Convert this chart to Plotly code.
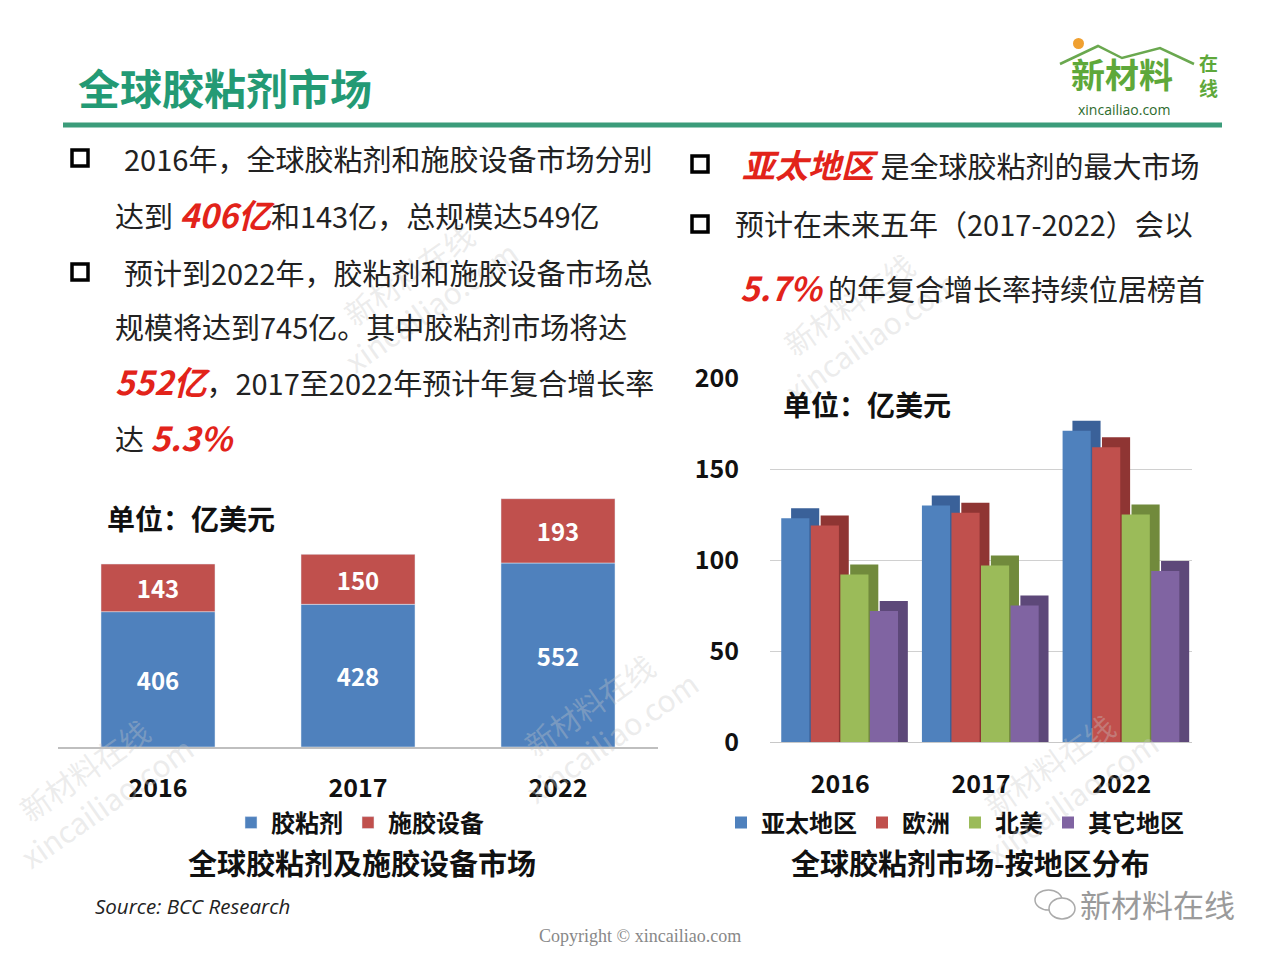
import plotly.graph_objects as go

W, H = 1280, 960
PAGE = 8  # default body margin of the html page

# ── Data ─────────────────────────────────────────────────────────────────────
years = ["2016", "2017", "2022"]
adhesive = [406, 428, 552]          # 胶粘剂
equipment = [143, 150, 193]         # 施胶设备

regions = ["亚太地区", "欧洲", "北美", "其它地区"]
region_values = [
    [123, 130, 171],   # 亚太地区
    [119, 126, 162],   # 欧洲
    [92, 97, 125],     # 北美
    [72, 75, 94],      # 其它地区
]
region_colors = ["#4f81bd", "#c0504d", "#9bbb59", "#8064a2"]
region_side = ["#3a6199", "#8f3533", "#718a3c", "#5d4879"]
y2_ticks = [0, 50, 100, 150, 200]

FONT = "Noto Sans CJK SC"
RED = "#e2231a"


def px(x):
    return (x - PAGE) / W


def py(y):
    return 1 - (y - PAGE) / H


fig = go.Figure()

# ── Left: stacked bars ──────────────────────────────────────────────────────
fig.add_trace(go.Bar(
    x=years, y=adhesive, name="<b>胶粘剂</b>", marker_color="#4f81bd",
    text=[f"<b>{v}</b>" for v in adhesive], textposition="inside",
    insidetextanchor="middle",
    textfont=dict(color="white", size=24, family=FONT), xaxis="x", yaxis="y",
    legend="legend",
))
fig.add_trace(go.Bar(
    x=years, y=equipment, base=adhesive, name="<b>施胶设备</b>",
    marker_color="#c0504d",
    text=[f"<b>{v}</b>" for v in equipment], textposition="inside",
    insidetextanchor="middle",
    textfont=dict(color="white", size=24, family=FONT), xaxis="x", yaxis="y",
    legend="legend",
))

# ── Right: grouped bars with a pseudo-3D depth face ─────────────────────────
bw = 0.2
depth_x = 0.07
depth_y = 5.5
for i, (name, vals) in enumerate(zip(regions, region_values)):
    off = -0.42 + i * 0.21
    fig.add_trace(go.Bar(
        x=years, y=[v + depth_y for v in vals], offset=off + depth_x, width=bw,
        marker_color=region_side[i], marker_line_width=0, showlegend=False,
        hoverinfo="skip", xaxis="x2", yaxis="y2",
    ))
    fig.add_trace(go.Bar(
        x=years, y=vals, offset=off, width=bw, name=f"<b>{name}</b>",
        marker_color=region_colors[i], marker_line_width=0,
        xaxis="x2", yaxis="y2", legend="legend2",
    ))

fig.update_layout(
    width=W, height=H,
    margin=dict(l=0, r=0, t=0, b=0, autoexpand=False),
    paper_bgcolor="white", plot_bgcolor="rgba(0,0,0,0)",
    barmode="overlay", bargap=0.43,
    font=dict(family=FONT, color="#222"),
    xaxis=dict(domain=[px(58), px(658)], showline=True, linecolor="#bfbfbf",
               linewidth=1.5, ticks="", tickvals=years,
               ticktext=[f"<b>{y}</b>" for y in years],
               tickfont=dict(family=FONT, size=25, color="#111"),
               ticklabelstandoff=18, showgrid=False),
    yaxis=dict(domain=[py(747), py(487)], range=[0, 780], visible=False,
               showgrid=False),
    xaxis2=dict(domain=[px(770), px(1192)], anchor="y2", range=[-0.5, 2.5],
                showline=True, linecolor="#c8c8c8", ticks="", tickvals=years,
                ticktext=[f"<b>{y}</b>" for y in years],
                tickfont=dict(family=FONT, size=25, color="#111"),
                ticklabelstandoff=20, showgrid=False),
    yaxis2=dict(domain=[py(742), py(378)], anchor="x2", range=[0, 200],
                tickvals=y2_ticks, ticktext=[f"<b>{t}</b>" for t in y2_ticks],
                showgrid=True, gridcolor="#d0d0d0", gridwidth=1, zeroline=False,
                tickfont=dict(family=FONT, size=25, color="#111"),
                ticklabelstandoff=30),
    legend=dict(orientation="h", x=px(360), xanchor="center", y=py(823),
                yanchor="middle", font=dict(family=FONT, size=24, color="#111"),
                itemwidth=30, bgcolor="rgba(0,0,0,0)", traceorder="normal"),
    legend2=dict(orientation="h", x=px(955), xanchor="center", y=py(823),
                 yanchor="middle", font=dict(family=FONT, size=24, color="#111"),
                 itemwidth=30, bgcolor="rgba(0,0,0,0)", traceorder="normal"),
)

# ── Decorations ─────────────────────────────────────────────────────────────
shapes = [
    dict(type="line", xref="paper", yref="paper", x0=px(63), x1=px(1222),
         y0=py(125), y1=py(125), line=dict(color="#3b9c7a", width=5)),
    # logo roof
    dict(type="path", xref="paper", yref="paper",
         path=f"M {px(1060)},{py(64)} L {px(1098)},{py(46)} L {px(1122)},{py(58)} "
              f"L {px(1160)},{py(48)} L {px(1194)},{py(64)}",
         line=dict(color="#6aa84f", width=2.5)),
    dict(type="circle", xref="paper", yref="paper", x0=px(1073), x1=px(1084),
         y0=py(38), y1=py(49), fillcolor="#f0a030", line_width=0),
    # wechat icon
    dict(type="circle", xref="paper", yref="paper", x0=px(1035), x1=px(1062),
         y0=py(890), y1=py(910), line=dict(color="#aaa", width=1.5)),
    dict(type="circle", xref="paper", yref="paper", x0=px(1049), x1=px(1075),
         y0=py(898), y1=py(919), line=dict(color="#aaa", width=1.5),
         fillcolor="white"),
]
for bx, by in [(80, 158), (80, 272), (700, 164), (700, 224)]:
    shapes.append(dict(type="rect", xref="paper", yref="paper",
                       x0=px(bx - 8), x1=px(bx + 8), y0=py(by - 8), y1=py(by + 8),
                       line=dict(color="black", width=3.5)))
fig.update_layout(shapes=shapes)


def red(s, size=33):
    return f"<span style='color:{RED};font-size:{size}px'><b><i>{s}</i></b></span>"


def ann(x, y, text, size=29, color="#222", anchor="left", **kw):
    fig.add_annotation(x=px(x), y=py(y), xref="paper", yref="paper", text=text,
                       showarrow=False, xanchor=anchor, yanchor="middle",
                       font=dict(family=kw.pop("family", FONT), size=size, color=color),
                       **kw)


# faint watermarks
for wx, wy in [(95, 785), (600, 720), (420, 290), (860, 320), (1060, 780)]:
    ann(wx, wy, "新材料在线<br>xincailiao.com", size=30, color="rgba(200,200,200,0.35)",
        anchor="center", textangle=-35)

ann(76, 86, "<b>全球胶粘剂市场</b>", size=42, color="#239a74")
ann(1122, 74, "<b>新材料</b>", size=34, color="#5ea83a", anchor="center")
ann(1208, 75, "<b>在<br>线</b>", size=19, color="#5ea83a", anchor="center")
ann(1124, 109, "xincailiao.com", size=14, color="#2d6b2d", anchor="center",
    family="Open Sans")

# left bullet text
ann(122, 158, "2016年，全球胶粘剂和施胶设备市场分别")
ann(113, 214, f"达到 {red('406亿')}和143亿，总规模达549亿")
ann(122, 272, "预计到2022年，胶粘剂和施胶设备市场总")
ann(113, 326, "规模将达到745亿。其中胶粘剂市场将达")
ann(113, 381, f"{red('552亿')}，2017至2022年预计年复合增长率")
ann(113, 437, f"达 {red('5.3%')}")

# right bullet text
ann(740, 164, f"{red('亚太地区')} 是全球胶粘剂的最大市场")
ann(733, 223, "预计在未来五年（2017-2022）会以")
ann(738, 287, f"{red('5.7%')} 的年复合增长率持续位居榜首")

# chart labels
ann(105, 518, "<b>单位：亿美元</b>", size=28, color="#111")
ann(781, 404, "<b>单位：亿美元</b>", size=28, color="#111")
ann(362, 862, "<b>全球胶粘剂及施胶设备市场</b>", size=29, color="#111", anchor="center")
ann(970, 862, "<b>全球胶粘剂市场-按地区分布</b>", size=29, color="#111", anchor="center")
ann(93, 906, "<i>Source: BCC Research</i>", size=20.5, color="#222", family="Open Sans")
ann(640, 936, "Copyright © xincailiao.com", size=18, color="#888", anchor="center",
    family="Liberation Serif")
ann(1078, 903, "新材料在线", size=31, color="#9a9a9a")

fig.write_html("out.html")
